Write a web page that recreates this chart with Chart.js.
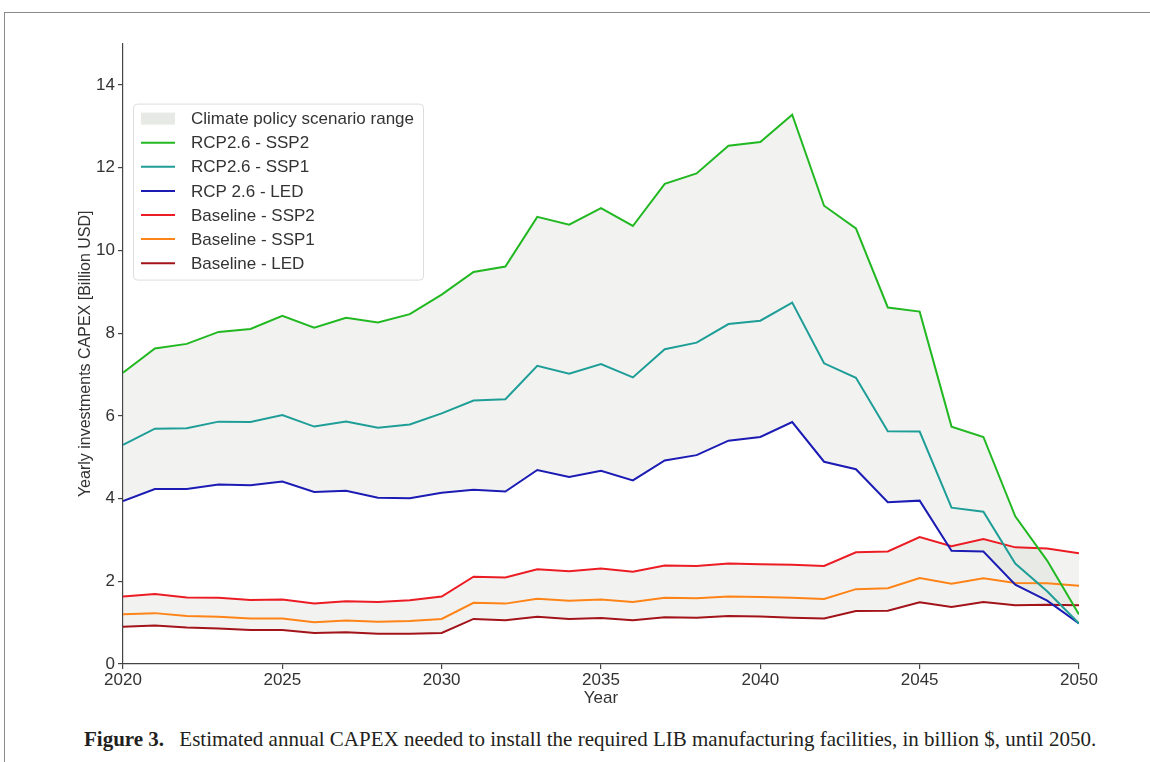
<!DOCTYPE html>
<html>
<head>
<meta charset="utf-8">
<title>Yearly CAPEX for LIB manufacturing</title>
<script src="https://cdn.jsdelivr.net/npm/chart.js@4.4.1/dist/chart.umd.min.js"></script>
<style>
  html, body { margin: 0; padding: 0; background: #fff; }
  body { width: 1150px; height: 762px; position: relative; overflow: hidden; }
  .frame {
    position: absolute; left: 4px; top: 12px; right: -4px; bottom: -4px;
    border-top: 1.5px solid #8a8a8a; border-left: 1.5px solid #8a8a8a;
  }
  #wrap { position: absolute; left: 0; top: 0; width: 1150px; height: 711px; }
  .caption {
    position: absolute; left: 84px; top: 727px;
    font-family: "Liberation Serif", "Times New Roman", serif;
    font-size: 21px; color: #231f20; white-space: nowrap;
  }
  .caption b { margin-right: 10px; }
</style>
</head>
<body>
<div class="frame"></div>
<div id="wrap"><canvas id="capexChart"></canvas></div>
<div class="caption"><b>Figure 3.</b> Estimated annual CAPEX needed to install the required LIB manufacturing facilities, in billion $, until 2050.</div>

<script>
// yearly investments, billion USD
const years = [2020, 2021, 2022, 2023, 2024, 2025, 2026, 2027, 2028, 2029, 2030,
               2031, 2032, 2033, 2034, 2035, 2036, 2037, 2038, 2039, 2040,
               2041, 2042, 2043, 2044, 2045, 2046, 2047, 2048, 2049, 2050];

const rcpSsp2 = [7.04, 7.63, 7.74, 8.03, 8.10, 8.42, 8.13, 8.37, 8.26, 8.46, 8.93,
                 9.48, 9.61, 10.81, 10.62, 11.02, 10.59, 11.61, 11.86, 12.53, 12.62,
                 13.28, 11.08, 10.53, 8.62, 8.52, 5.74, 5.49, 3.57, 2.50, 1.20];
const rcpSsp1 = [5.30, 5.69, 5.70, 5.86, 5.85, 6.02, 5.74, 5.86, 5.71, 5.79, 6.06,
                 6.37, 6.40, 7.21, 7.02, 7.25, 6.93, 7.61, 7.77, 8.22, 8.30,
                 8.74, 7.27, 6.92, 5.63, 5.62, 3.78, 3.68, 2.43, 1.76, 0.98];
const rcpLed   = [3.94, 4.23, 4.23, 4.34, 4.32, 4.41, 4.16, 4.19, 4.02, 4.01, 4.14,
                  4.21, 4.17, 4.69, 4.52, 4.67, 4.44, 4.92, 5.05, 5.40, 5.49,
                  5.85, 4.89, 4.71, 3.91, 3.95, 2.74, 2.72, 1.92, 1.53, 0.98];
const baseSsp2 = [1.63, 1.69, 1.61, 1.60, 1.55, 1.56, 1.46, 1.52, 1.50, 1.54, 1.63,
                  2.11, 2.09, 2.29, 2.24, 2.31, 2.23, 2.38, 2.37, 2.43, 2.41,
                  2.40, 2.37, 2.70, 2.72, 3.07, 2.85, 3.02, 2.82, 2.79, 2.68];
const baseSsp1 = [1.20, 1.23, 1.16, 1.14, 1.10, 1.10, 1.01, 1.05, 1.02, 1.04, 1.09,
                  1.48, 1.46, 1.58, 1.53, 1.56, 1.50, 1.60, 1.59, 1.63, 1.62,
                  1.60, 1.57, 1.81, 1.83, 2.08, 1.94, 2.07, 1.96, 1.95, 1.89];
const baseLed  = [0.90, 0.93, 0.88, 0.86, 0.82, 0.82, 0.75, 0.77, 0.73, 0.73, 0.75,
                  1.09, 1.06, 1.14, 1.09, 1.11, 1.06, 1.13, 1.12, 1.16, 1.15,
                  1.12, 1.10, 1.28, 1.29, 1.49, 1.38, 1.50, 1.42, 1.43, 1.42];

const xTicks = [2020, 2025, 2030, 2035, 2040, 2045, 2050];
const yTicks = [0, 2, 4, 6, 8, 10, 12, 14];

const rangeLabel = 'Climate policy scenario range';
const rangeFill = 'rgba(196, 200, 190, 0.22)';
const FONT = '"Liberation Sans", Arial, sans-serif';

function pts(vals) {
  return years.map((yr, i) => ({ x: yr, y: vals[i] }));
}

function line(label, vals, color, fill) {
  return {
    label: label,
    data: pts(vals),
    borderColor: color,
    backgroundColor: rangeFill,
    borderWidth: 2,
    pointRadius: 0,
    tension: 0,
    fill: fill || false
  };
}

// legend box drawn inside the plot, like a matplotlib legend
const legendBox = {
  id: 'legendBox',
  afterDatasetsDraw(chart) {
    const ctx = chart.ctx;
    const area = chart.chartArea;
    const x = area.left + 10, y = area.top + 60;
    const w = 290, h = 176, row = 24.1;
    ctx.save();
    ctx.beginPath();
    ctx.roundRect(x + 0.5, y + 0.5, w, h, 4);
    ctx.fillStyle = 'rgba(255,255,255,0.85)';
    ctx.fill();
    ctx.strokeStyle = '#dddddd';
    ctx.lineWidth = 1;
    ctx.stroke();

    ctx.font = '17px ' + FONT;
    ctx.textBaseline = 'middle';

    let cy = y + 15;
    ctx.fillStyle = '#e7e9e5';
    ctx.fillRect(x + 8, cy - 6, 34, 12);
    ctx.fillStyle = '#333';
    ctx.fillText(rangeLabel, x + 58, cy + 1);

    chart.data.datasets.forEach(ds => {
      cy += row;
      ctx.beginPath();
      ctx.moveTo(x + 8, cy);
      ctx.lineTo(x + 42, cy);
      ctx.strokeStyle = ds.borderColor;
      ctx.lineWidth = 2;
      ctx.stroke();
      ctx.fillStyle = '#333';
      ctx.fillText(ds.label, x + 58, cy + 1);
    });
    ctx.restore();
  }
};

const ctx = document.getElementById('capexChart').getContext('2d');

const myChart = new Chart(ctx, {
  type: 'line',
  data: {
    datasets: [
      line('RCP2.6 - SSP2', rcpSsp2, '#22b822', '+2'),
      line('RCP2.6 - SSP1', rcpSsp1, '#1f9e98'),
      line('RCP 2.6 - LED', rcpLed, '#1c1cb4'),
      line('Baseline - SSP2', baseSsp2, '#ec1c24', '+2'),
      line('Baseline - SSP1', baseSsp1, '#ff8418'),
      line('Baseline - LED', baseLed, '#a3141a')
    ]
  },
  options: {
    responsive: true,
    maintainAspectRatio: false,
    animation: false,
    layout: { padding: { left: 76, right: 71, top: 43.6, bottom: 0 } },
    plugins: {
      legend: { display: false },
      tooltip: { enabled: false },
      filler: { drawTime: 'beforeDatasetsDraw' }
    },
    scales: {
      x: {
        type: 'linear',
        min: 2020,
        max: 2050,
        afterBuildTicks: scale => { scale.ticks = xTicks.map(v => ({ value: v })); },
        afterFit: scale => { scale.height = 47; },
        ticks: {
          color: '#333',
          font: { family: FONT, size: 17 },
          padding: 1,
          maxRotation: 0,
          callback: v => String(v)
        },
        grid: { drawOnChartArea: false, drawTicks: true, tickLength: 5, color: '#444', lineWidth: 1.2 },
        border: { display: true, color: '#444', width: 1.2 },
        title: {
          display: true, text: 'Year', color: '#333',
          font: { family: FONT, size: 17 }, padding: { top: 0, bottom: 2 }
        }
      },
      y: {
        min: 0,
        max: 15,
        afterBuildTicks: scale => { scale.ticks = yTicks.map(v => ({ value: v })); },
        afterFit: scale => { scale.width = 47; },
        ticks: {
          color: '#333',
          font: { family: FONT, size: 17 },
          padding: 3
        },
        grid: { drawOnChartArea: false, drawTicks: true, tickLength: 5, color: '#444', lineWidth: 1.2 },
        border: { display: true, color: '#444', width: 1.2 },
        title: {
          display: true, text: 'Yearly investments CAPEX [Billion USD]', color: '#333',
          font: { family: FONT, size: 16 }, padding: { top: 0, bottom: 0 }
        }
      }
    }
  },
  plugins: [legendBox]
});
</script>
</body>
</html>
